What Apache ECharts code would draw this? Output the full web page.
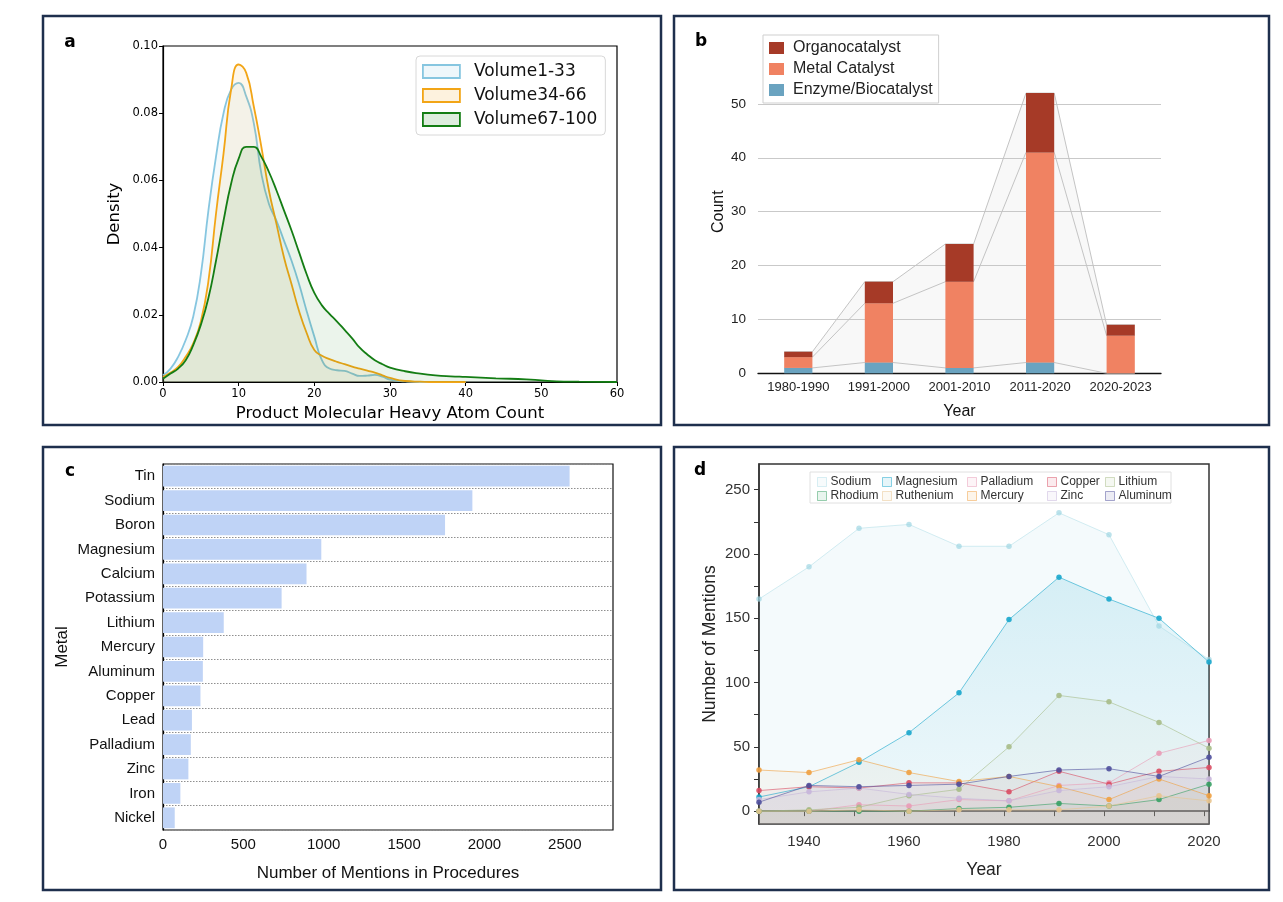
<!DOCTYPE html>
<html><head><meta charset="utf-8">
<script src="https://cdn.jsdelivr.net/npm/echarts@6.0.0/dist/echarts.min.js"></script>
<style>html,body{margin:0;padding:0;background:#fff}#c{width:1283px;height:902px}</style>
</head><body><div id="c"></div>
<script>
// ---------- Panel a: KDE of product heavy atom count ----------
const kdeX = [0,1,2,3,4,5,6,7,8,9,10,11,12,13,14,15,16,17,18,19,20,21,22,23,24,25,26,27,28,29,30,32,34,36,38,40,44,48,50,52,55,60];
const densVol1 = [0.002,0.004,0.0075,0.0125,0.0195,0.032,0.051,0.067,0.080,0.087,0.089,0.085,0.077,0.062,0.053,0.048,0.042,0.036,0.029,0.021,0.0135,0.0065,0.004,0.0035,0.0033,0.0025,0.0018,0.0019,0.0021,0.0016,0.0007,0.0002,0,0,0,0,null,null,null,null,null,null];
const densVol2 = [0.0015,0.0028,0.0045,0.0075,0.0115,0.018,0.030,0.050,0.068,0.087,0.0945,0.092,0.082,0.070,0.057,0.047,0.037,0.029,0.021,0.0145,0.0095,0.0078,0.0068,0.006,0.0053,0.0046,0.004,0.0034,0.0028,0.002,0.0012,0.0003,0.0001,0,0,0,null,null,null,null,null,null];
const densVol3 = [0.001,0.0025,0.004,0.0065,0.011,0.017,0.025,0.036,0.048,0.059,0.0665,0.0700,0.0700,0.067,0.0625,0.057,0.051,0.045,0.0385,0.032,0.0265,0.0228,0.0203,0.018,0.0155,0.013,0.0102,0.0082,0.0065,0.0053,0.0043,0.0032,0.0025,0.002,0.0017,0.0015,0.0011,0.0008,0.0005,0.0002,0.0001,0];
const volNames = ['Volume1-33','Volume34-66','Volume67-100'];

// ---------- Panel b: catalyst types by period ----------
const periods = ['1980-1990','1991-2000','2001-2010','2011-2020','2020-2023'];
const enzymeCounts = [1,2,1,2,0];
const metalCounts = [2,11,16,39,7];
const organoCounts = [1,4,7,11,2];

// ---------- Panel c: metal mentions ----------
const metals = ['Tin','Sodium','Boron','Magnesium','Calcium','Potassium','Lithium','Mercury','Aluminum','Copper','Lead','Palladium','Zinc','Iron','Nickel'];
const metalMentions = [2530,1925,1755,985,893,738,378,250,248,233,180,173,158,108,73];

// ---------- Panel d: mentions over time ----------
const years = [1931,1941,1951,1961,1971,1981,1991,2001,2011,2021];
const sodium    = [165,190,220,223,206,206,232,215,144,118];
const magnesium = [11,19,38,61,92,149,182,165,150,116];
const palladium = [0,0,5,4,9,8,20,22,45,55];
const copper    = [16,19,18,22,22,15,31,21,31,34];
const lithium   = [0,1,3,12,17,50,90,85,69,49];
const rhodium   = [0,0,0,0,2,3,6,4,9,21];
const ruthenium = [0,0,1,0,1,1,1,4,12,8];
const mercury   = [32,30,40,30,23,27,19,9,25,12];
const zinc      = [9,15,18,13,10,8,16,19,27,25];
const aluminum  = [7,20,19,20,21,27,32,33,27,42];
const dNames = ['Sodium','Magnesium','Palladium','Copper','Lithium','Rhodium','Ruthenium','Mercury','Zinc','Aluminum'];
const dValues = [sodium,magnesium,palladium,copper,lithium,rhodium,ruthenium,mercury,zinc,aluminum];
const xTickYears = [1940,1950,1960,1970,1980,1990,2000,2010,2020];
const xLabelYears = [1940,1960,1980,2000,2020];
const yTickVals = [0,25,50,75,100,125,150,175,200,225,250];
const yLabelVals = [0,50,100,150,200,250];

// ---------- styling ----------
const FA = 'DejaVu Sans';
const FB = 'Liberation Sans, Arial, sans-serif';
function rgba(hex,a){const n=parseInt(hex.slice(1),16);return `rgba(${n>>16&255},${n>>8&255},${n&255},${a})`;}
const volColors = ['#86c6e0','#f2a516','#147d14'];
const catColors = {organo:'#a63a27', metal:'#f08262', enzyme:'#6aa3c0'};
const dColors = ['#9fd6e2','#18a6cc','#e99bb6','#d94c63','#a7bd88','#37a064','#e8c48e','#f0a040','#c6b5da','#4e4f9c'];

const chart = echarts.init(document.getElementById('c'), null, {renderer:'canvas'});

const series = [];
// Panel a series
[densVol1,densVol2,densVol3].forEach((arr,k)=>{
  const data=[]; kdeX.forEach((x,i)=>{ if(arr[i]!==null) data.push([x,arr[i]]); });
  series.push({type:'line', name:volNames[k], xAxisIndex:0, yAxisIndex:0, data, smooth:0.5,
    showSymbol:false, lineStyle:{color:volColors[k], width:1.8}, itemStyle:{color:volColors[k]},
    areaStyle:{color:rgba(volColors[k],0.12)}, z:2+k});
});
// Panel b helper lines through bar corners
const HALF = 0.175;
function corners(vals){const p=[];vals.forEach((v,i)=>{p.push([i-HALF,v]);p.push([i+HALF,v]);});return p;}
const cumE = enzymeCounts.slice();
const cumM = enzymeCounts.map((v,i)=>v+metalCounts[i]);
const cumT = cumM.map((v,i)=>v+organoCounts[i]);
[cumT,cumM,cumE].forEach((vals,k)=>{
  series.push({type:'line', name:'_link'+k, xAxisIndex:2, yAxisIndex:1, data:corners(vals), showSymbol:false, silent:true,
    lineStyle:{color:'#c4c4c4', width:1}, areaStyle: k===0?{color:'rgba(190,190,190,0.16)'}:undefined, z:1});
});
series.push({type:'bar', name:'Enzyme/Biocatalyst', xAxisIndex:1, yAxisIndex:1, stack:'cat', data:enzymeCounts, barWidth:'35%', itemStyle:{color:catColors.enzyme}, z:3});
series.push({type:'bar', name:'Metal Catalyst', xAxisIndex:1, yAxisIndex:1, stack:'cat', data:metalCounts, barWidth:'35%', itemStyle:{color:catColors.metal}, z:3});
series.push({type:'bar', name:'Organocatalyst', xAxisIndex:1, yAxisIndex:1, stack:'cat', data:organoCounts, barWidth:'35%', itemStyle:{color:catColors.organo}, z:3});
// Panel c
series.push({type:'bar', name:'Mentions', xAxisIndex:3, yAxisIndex:2, data:metalMentions, barCategoryGap:'15%', itemStyle:{color:'#bfd3f6'}});
// Panel d
dNames.forEach((nm,k)=>{
  const c = dColors[k];
  let area;
  if(nm==='Sodium') area={origin:'start', color:rgba(c,0.16)};
  else if(nm==='Magnesium') area={origin:'start', color:new echarts.graphic.LinearGradient(0,0,0,1,[{offset:0,color:rgba(c,0.2)},{offset:1,color:rgba(c,0.03)}])};
  else area={origin:'start', color:rgba(c,0.07)};
  series.push({type:'line', name:nm, xAxisIndex:4, yAxisIndex:3, data:years.map((y,i)=>[y,dValues[k][i]]),
    symbol:'circle', symbolSize:5.5, showSymbol:true,
    lineStyle:{color:c, width:1, opacity: nm==='Sodium'?0.45:0.6},
    itemStyle:{color:c, opacity: nm==='Sodium'?0.7:0.9},
    areaStyle:area, z:2});
});

// legends
const legends = [];
legends.push({orient:'vertical', left:416, top:56, padding:[7,8,7,6], itemWidth:37, itemHeight:13, itemGap:7, icon:'rect',
  backgroundColor:'#fff', borderColor:'#d8d8d8', borderWidth:1, borderRadius:4,
  textStyle:{fontFamily:FA, fontSize:17, color:'#111', padding:[0,0,0,9]},
  data: volNames.map((n,k)=>({name:n, itemStyle:{color:rgba(volColors[k],0.14), borderColor:volColors[k], borderWidth:1.8}}))});
legends.push({orient:'vertical', left:763, top:35, padding:[5,6,5,6], itemWidth:15, itemHeight:12, itemGap:5, icon:'rect',
  backgroundColor:'#fff', borderColor:'#cfcfcf', borderWidth:1,
  textStyle:{fontFamily:FB, fontSize:16, color:'#222', padding:[0,0,0,4]},
  data:['Organocatalyst','Metal Catalyst','Enzyme/Biocatalyst']});
const dLegendCols = [817,882,967,1047,1105];
for(let col=0; col<5; col++){
  const idx=[col, col+5];
  legends.push({orient:'vertical', left:dLegendCols[col], top:475, padding:0, itemWidth:9, itemHeight:9, itemGap:0, icon:'rect',
    textStyle:{fontFamily:FB, fontSize:12, color:'#333', lineHeight:14, padding:[0,0,0,-1]},
    data: idx.map(i=>({name:dNames[i], itemStyle:{color:rgba(dColors[i],0.12), borderColor:rgba(dColors[i],0.55), borderWidth:1}}))});
}

const axisBlack = {lineStyle:{color:'#000', width:1.2}};
const option = {
  animation:false,
  backgroundColor:'#fff',
  grid:[
    {left:163, top:46, width:454, height:336, show:true, borderColor:'#000', borderWidth:1.2, backgroundColor:'transparent'},
    {left:758, top:50, width:403, height:323.3},
    {left:163, top:464, width:450, height:366, show:true, borderColor:'#111', borderWidth:1.2, backgroundColor:'transparent'},
    {left:759, top:464, width:450, height:360, show:true, borderColor:'#333', borderWidth:1.5, backgroundColor:'transparent'}
  ],
  legend: legends,
  xAxis:[
    {gridIndex:0, type:'value', min:0, max:60, interval:10, axisLine:axisBlack, axisTick:{length:4, lineStyle:{color:'#000'}},
      axisLabel:{color:'#000', fontFamily:FA, fontSize:11.5, margin:6}, splitLine:{show:false},
      name:'Product Molecular Heavy Atom Count', nameLocation:'middle', nameGap:23, nameTextStyle:{fontFamily:FA, fontSize:16.5, color:'#000'}},
    {gridIndex:1, type:'category', data:periods, axisLine:{lineStyle:{color:'#111', width:1.3}}, axisTick:{show:false},
      axisLabel:{interval:0, color:'#222', fontFamily:FB, fontSize:13, margin:8},
      name:'Year', nameLocation:'middle', nameGap:30, nameTextStyle:{fontFamily:FB, fontSize:16, color:'#111'}},
    {gridIndex:1, type:'value', min:-0.5, max:4.5, show:false},
    {gridIndex:2, type:'value', min:0, max:2800, interval:100, axisLine:axisBlack, axisTick:{length:5, lineStyle:{color:'#000'}},
      axisLabel:{color:'#111', fontFamily:FB, fontSize:15, margin:7, formatter:v=> (v%500===0? String(v):'')}, splitLine:{show:false},
      name:'Number of Mentions in Procedures', nameLocation:'middle', nameGap:35, nameTextStyle:{fontFamily:FB, fontSize:17, color:'#111'}},
    {gridIndex:3, type:'value', min:1931, max:2021, axisLine:{lineStyle:{color:'#333', width:1.5}},
      axisTick:{customValues:xTickYears, length:5, lineStyle:{color:'#333'}},
      axisLabel:{customValues:xLabelYears, formatter:v=>String(v), color:'#333', fontFamily:FB, fontSize:15, margin:10}, splitLine:{show:false},
      name:'Year', nameLocation:'middle', nameGap:37, nameTextStyle:{fontFamily:FB, fontSize:17.5, color:'#222'}}
  ],
  yAxis:[
    {gridIndex:0, type:'value', min:0, max:0.1, interval:0.02, axisLine:{show:true, lineStyle:{color:'#000', width:1.2}},
      axisTick:{show:true, length:4, lineStyle:{color:'#000'}}, axisLabel:{color:'#000', fontFamily:FA, fontSize:11.5, margin:5, formatter:v=>v.toFixed(2)},
      splitLine:{show:false}, name:'Density', nameLocation:'middle', nameGap:40, nameTextStyle:{fontFamily:FA, fontSize:16.5, color:'#000'}},
    {gridIndex:1, type:'value', min:0, max:60, interval:10, axisLine:{show:false}, axisTick:{show:false},
      axisLabel:{showMaxLabel:false, color:'#222', fontFamily:FB, fontSize:13.5, margin:12},
      splitLine:{show:true, showMaxLine:false, lineStyle:{color:'#c9c9c9', width:1}},
      name:'Count', nameLocation:'middle', nameGap:30, nameTextStyle:{fontFamily:FB, fontSize:16, color:'#111'}},
    {gridIndex:2, type:'category', data:metals, inverse:true, axisLine:axisBlack, axisTick:{show:false},
      axisLabel:{color:'#111', fontFamily:FB, fontSize:15, margin:8},
      splitLine:{show:true, lineStyle:{type:[1.5,1.5], color:'#8f8f8f', width:1}},
      name:'Metal', nameLocation:'middle', nameGap:92, nameTextStyle:{fontFamily:FB, fontSize:17, color:'#111'}},
    {gridIndex:3, type:'value', min:-10, max:270, axisLine:{show:true, lineStyle:{color:'#333', width:1.5}},
      axisTick:{show:true, customValues:yTickVals, length:5, lineStyle:{color:'#333'}},
      axisLabel:{customValues:yLabelVals, color:'#333', fontFamily:FB, fontSize:15, margin:9}, splitLine:{show:false},
      name:'Number of Mentions', nameLocation:'middle', nameGap:40, nameTextStyle:{fontFamily:FB, fontSize:17.5, color:'#222'}}
  ],
  graphic:[
    {type:'rect', shape:{x:43,y:16,width:618,height:409}, style:{fill:'none', stroke:'#1e2f4d', lineWidth:2.5}, z:10},
    {type:'rect', shape:{x:674,y:16,width:595,height:409}, style:{fill:'none', stroke:'#1e2f4d', lineWidth:2.5}, z:10},
    {type:'rect', shape:{x:43,y:447,width:618,height:443}, style:{fill:'none', stroke:'#1e2f4d', lineWidth:2.5}, z:10},
    {type:'rect', shape:{x:674,y:447,width:595,height:443}, style:{fill:'none', stroke:'#1e2f4d', lineWidth:2.5}, z:10},
    {type:'rect', shape:{x:810,y:472,width:361,height:31}, style:{fill:'rgba(255,255,255,0.9)', stroke:'#e0e0e0', lineWidth:1}, z:3},
    {type:'text', style:{x:70,y:43,text:'a',font:'bold 17px DejaVu Sans',fill:'#000',align:'center',verticalAlign:'middle'}, z:10},
    {type:'text', style:{x:701,y:42,text:'b',font:'bold 17px DejaVu Sans',fill:'#000',align:'center',verticalAlign:'middle'}, z:10},
    {type:'text', style:{x:70,y:472,text:'c',font:'bold 17px DejaVu Sans',fill:'#000',align:'center',verticalAlign:'middle'}, z:10},
    {type:'text', style:{x:700,y:471,text:'d',font:'bold 17px DejaVu Sans',fill:'#000',align:'center',verticalAlign:'middle'}, z:10}
  ],
  series
};
chart.setOption(option);
</script></body></html>
